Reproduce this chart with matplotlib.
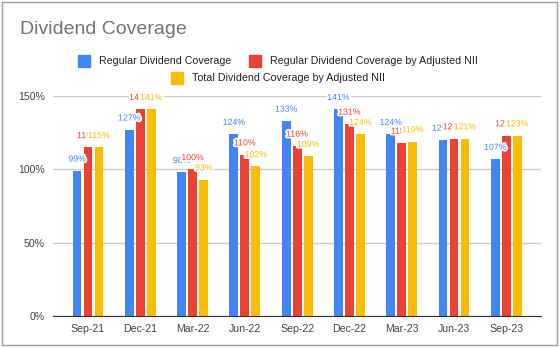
import matplotlib.pyplot as plt
import matplotlib.patheffects as pe
import numpy as np

plt.rcParams['font.family'] = ['Liberation Sans', 'DejaVu Sans']

quarters = ['Sep-21', 'Dec-21', 'Mar-22', 'Jun-22', 'Sep-22',
            'Dec-22', 'Mar-23', 'Jun-23', 'Sep-23']
regular = [99, 127, 98, 124, 133, 141, 124, 120, 107]
regular_nii = [115, 141, 100, 110, 116, 131, 118, 121, 123]
total_nii = [115, 141, 93, 102, 109, 124, 119, 121, 123]

series_names = ['Regular Dividend Coverage',
                'Regular Dividend Coverage by Adjusted NII',
                'Total Dividend Coverage by Adjusted NII']
colors = ['#4285F4', '#EA4335', '#FBBC04']


def main():
    fig = plt.figure(figsize=(5.6, 3.48), dpi=100)
    ax = fig.add_axes([0.0946, 0.092, 0.872, 0.632])

    x = np.arange(len(quarters))
    width = 0.17
    step = 0.21
    all_series = [regular, regular_nii, total_nii]

    # сначала рисуем столбцы, потом подписи поверх
    for i, (vals, col) in enumerate(zip(all_series, colors)):
        ax.bar(x + (i - 1) * step, vals, width, color=col, zorder=3)

    for j in range(len(quarters)):
        for i, (vals, col) in enumerate(zip(all_series, colors)):
            ax.annotate(f'{vals[j]}%', (x[j] + (i - 1) * step, vals[j]),
                        xytext=(0, 8.5), textcoords='offset points',
                        ha='center', va='center', fontsize=6.3, color=col,
                        annotation_clip=False, zorder=5,
                        path_effects=[pe.withStroke(linewidth=2.5, foreground='white')])

    ax.set_xlim(-0.67, 8.67)
    ax.set_ylim(0, 150)
    ax.set_yticks([0, 50, 100, 150])
    ax.set_yticklabels(['0%', '50%', '100%', '150%'])
    ax.set_xticks(x)
    ax.set_xticklabels(quarters)
    ax.tick_params(length=0, labelsize=7.6, colors='#444444')
    ax.tick_params(axis='x', pad=6)
    ax.tick_params(axis='y', pad=6)

    ax.grid(axis='y', color='#cccccc', linewidth=1, zorder=0)
    for s in ['top', 'right', 'left']:
        ax.spines[s].set_visible(False)
    ax.spines['bottom'].set_color('#333333')
    ax.spines['bottom'].set_zorder(4)

    # заголовок
    fig.text(20 / 560, 1 - 30 / 348, 'Dividend Coverage', fontsize=14,
             color='#757575', va='center', ha='left')

    # легенда в две строки
    legend_items = [(78, 61), (249, 61), (171, 78)]
    for (px, py), name, col in zip(legend_items, series_names, colors):
        fig.patches.append(plt.Rectangle((px / 560, 1 - (py + 6) / 348),
                                         12 / 560, 12 / 348,
                                         transform=fig.transFigure,
                                         color=col, figure=fig))
        fig.text((px + 21) / 560, 1 - py / 348, name, fontsize=7.7,
                 color='#222222', va='center', ha='left')

    # рамка вокруг рисунка
    fig.patches.append(plt.Rectangle((2 / 560, 3 / 348), 555 / 560, 343 / 348,
                                     transform=fig.transFigure, fill=False,
                                     edgecolor='#9e9e9e', linewidth=1, figure=fig))

    plt.savefig('out.png', dpi=100)


if __name__ == '__main__':
    main()
